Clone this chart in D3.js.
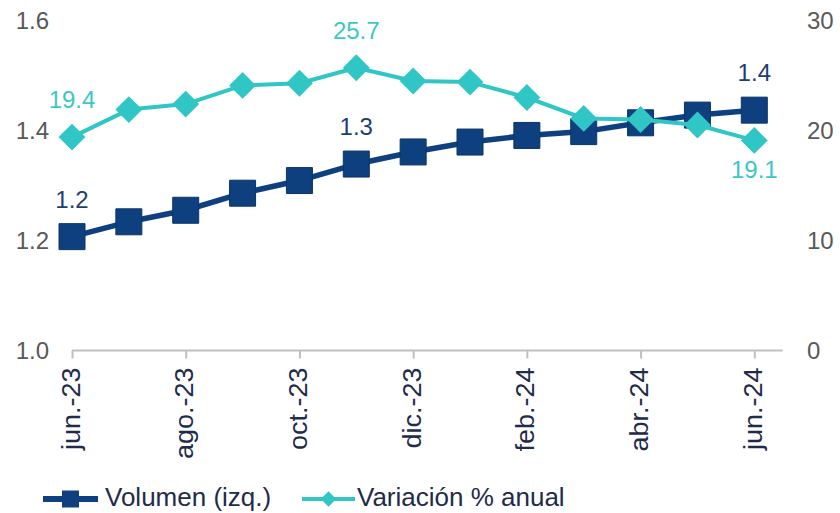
<!DOCTYPE html>
<html>
<head>
<meta charset="utf-8">
<script src="https://cdn.jsdelivr.net/npm/d3@7"></script>
<style>
  html, body { margin: 0; padding: 0; background: #ffffff; }
  svg { display: block; font-family: "Liberation Sans", Arial, sans-serif; }
</style>
</head>
<body>
<svg id="chart" width="840" height="513"></svg>
<script>
// Monthly series, jun-23 .. jun-24
const months = ["jun.-23", "jul.-23", "ago.-23", "sep.-23", "oct.-23", "nov.-23", "dic.-23",
                "ene.-24", "feb.-24", "mar.-24", "abr.-24", "may.-24", "jun.-24"];
const volumen = [1.207, 1.234, 1.255, 1.286, 1.309, 1.339, 1.361, 1.379, 1.391, 1.398, 1.414, 1.428, 1.437];
const variacion = [19.4, 21.9, 22.4, 24.1, 24.3, 25.7, 24.5, 24.4, 23.0, 21.1, 21.0, 20.5, 19.1];
const leftTicks = [1.0, 1.2, 1.4, 1.6];
const rightTicks = [0, 10, 20, 30];
const shownMonths = ["jun.-23", "ago.-23", "oct.-23", "dic.-23", "feb.-24", "abr.-24", "jun.-24"];
const labelledPoints = [0, 5, 12];
const seriesNames = ["Volumen (izq.)", "Variación % anual"];

const NAVY = "#0e3f7e", NAVY_TEXT = "#1d3f70", TEAL = "#31c6c6", TEAL_TEXT = "#3cc7c7";
const AXIS_GREY = "#bfbfbf", TICK_TEXT = "#595959", CAT_TEXT = "#1f2b4a";

const svg = d3.select("#chart");
const plotTop = 20.5, plotBottom = 350.5;

const x = d3.scalePoint().domain(months).range([72, 754.3]);
const step = x.step();
const yL = d3.scaleLinear().domain([1.0, 1.6]).range([plotBottom, plotTop]);
const yR = d3.scaleLinear().domain([0, 30]).range([plotBottom, plotTop]);

// Left value axis labels
const leftAxis = d3.axisLeft(yL).tickValues(leftTicks).tickFormat(d3.format(".1f")).tickSize(0).tickPadding(0);
svg.append("g").attr("transform", "translate(49,0)").call(leftAxis)
  .call(g => g.select(".domain").remove())
  .call(g => g.selectAll("text").attr("fill", TICK_TEXT).style("font-size", "24px")
    .style("font-family", "'Liberation Sans', Arial, sans-serif"));

// Right value axis labels
const rightAxis = d3.axisRight(yR).tickValues(rightTicks).tickFormat(d3.format("d")).tickSize(0).tickPadding(0);
svg.append("g").attr("transform", "translate(807,0)").call(rightAxis)
  .call(g => g.select(".domain").remove())
  .call(g => g.selectAll("text").attr("fill", TICK_TEXT).style("font-size", "24px")
    .style("font-family", "'Liberation Sans', Arial, sans-serif"));

// Category axis: baseline, ticks and rotated month labels
svg.append("line")
  .attr("x1", x(months[0])).attr("x2", x(months[months.length - 1]) + step / 2)
  .attr("y1", plotBottom).attr("y2", plotBottom)
  .attr("stroke", AXIS_GREY).attr("stroke-width", 2);
const catAxis = d3.axisBottom(x).tickValues(shownMonths).tickSize(8).tickPadding(0);
const catG = svg.append("g").attr("transform", `translate(0,${plotBottom})`).call(catAxis);
catG.select(".domain").remove();
catG.selectAll(".tick line").attr("stroke", AXIS_GREY).attr("stroke-width", 2);
catG.selectAll(".tick text")
  .attr("fill", CAT_TEXT)
  .style("font-size", "25px")
  .style("font-family", "'Liberation Sans', Arial, sans-serif")
  .attr("text-anchor", "end")
  .attr("dy", null)
  .attr("y", 0)
  .attr("transform", "translate(7,17) rotate(-90) scale(1.08,1)");

// Volume series
const lineL = d3.line().x((d, i) => x(months[i])).y(d => yL(d));
svg.append("path").datum(volumen).attr("d", lineL)
  .attr("fill", "none").attr("stroke", NAVY).attr("stroke-width", 5.5).attr("stroke-linejoin", "round");
const sq = d3.symbol().type(d3.symbolSquare).size(26 * 26);
svg.append("g").selectAll("path").data(volumen).join("path")
  .attr("d", sq)
  .attr("transform", (d, i) => `translate(${x(months[i])},${yL(d)})`)
  .attr("fill", NAVY).attr("stroke", "#0b3669").attr("stroke-width", 1);

// Annual variation series
const lineR = d3.line().x((d, i) => x(months[i])).y(d => yR(d));
svg.append("path").datum(variacion).attr("d", lineR)
  .attr("fill", "none").attr("stroke", TEAL).attr("stroke-width", 4).attr("stroke-linejoin", "round");
const dm = d3.symbol().type(d3.symbolSquare).size(19 * 19);
svg.append("g").selectAll("path").data(variacion).join("path")
  .attr("d", dm)
  .attr("transform", (d, i) => `translate(${x(months[i])},${yR(d)}) rotate(45)`)
  .attr("fill", TEAL);

// Data labels
const fmt = d3.format(".1f");
svg.append("g").selectAll("text").data(labelledPoints).join("text")
  .attr("x", i => x(months[i]))
  .attr("y", i => yL(volumen[i]) - 29)
  .attr("text-anchor", "middle").attr("fill", NAVY_TEXT).style("font-size", "24px")
  .text(i => fmt(volumen[i]));
svg.append("g").selectAll("text").data(labelledPoints).join("text")
  .attr("x", i => x(months[i]))
  .attr("y", i => i === months.length - 1 ? yR(variacion[i]) + 38 : yR(variacion[i]) - 29)
  .attr("text-anchor", "middle").attr("fill", TEAL_TEXT).style("font-size", "24px")
  .text(i => fmt(variacion[i]));

// Legend
const legend = svg.append("g").attr("transform", "translate(0,499)");
const lg1 = legend.append("g").attr("transform", "translate(43,0)");
lg1.append("line").attr("x1", 0).attr("x2", 55).attr("y1", 0).attr("y2", 0)
  .attr("stroke", NAVY).attr("stroke-width", 6);
lg1.append("path").attr("d", d3.symbol().type(d3.symbolSquare).size(17 * 17)())
  .attr("transform", "translate(27.5,0)").attr("fill", NAVY);
lg1.append("text").attr("x", 62).attr("y", 7).attr("fill", CAT_TEXT)
  .style("font-size", "26px").text(seriesNames[0]);
const lg2 = legend.append("g").attr("transform", "translate(302,0)");
lg2.append("line").attr("x1", 0).attr("x2", 53).attr("y1", 0).attr("y2", 0)
  .attr("stroke", TEAL).attr("stroke-width", 4);
lg2.append("path").attr("d", d3.symbol().type(d3.symbolSquare).size(11 * 11)())
  .attr("transform", "translate(26.5,0) rotate(45)").attr("fill", TEAL);
lg2.append("text").attr("x", 55).attr("y", 7).attr("fill", CAT_TEXT)
  .style("font-size", "26px").text(seriesNames[1]);
</script>
</body>
</html>
